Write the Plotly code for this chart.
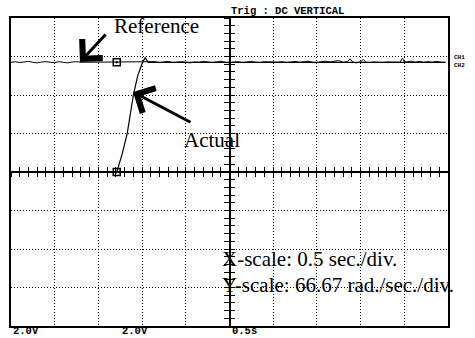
import plotly.graph_objects as go

# ---- scales -------------------------------------------------------------
sec_per_div = 0.5          # X-scale
rad_per_div = 66.67        # Y-scale
n_xdiv = 10
n_ydiv = 8

# ---- data (time in s, speed in rad/s) ------------------------------------
ref_t = [0.00, 0.05, 0.10, 0.15, 0.20, 0.25, 0.30, 0.35, 0.40, 0.45, 0.50,
         0.55, 0.60, 0.65, 0.70, 0.75, 0.80, 1.00, 1.20, 1.40, 1.60, 1.65,
         1.70, 1.75, 1.80, 1.85, 1.90, 1.95, 2.00, 2.05, 2.10, 2.15, 2.20,
         2.25, 2.30, 2.35, 2.40, 2.45, 2.50, 2.55, 2.60, 2.65, 2.70, 2.75,
         2.80, 2.85, 2.90, 2.95, 3.00, 3.05, 3.10, 3.15, 3.20, 3.25, 3.30,
         3.35, 3.40, 3.45, 3.50, 3.55, 3.60, 3.65, 3.70, 3.75, 3.80, 3.85,
         3.88, 3.91, 3.95, 4.00, 4.03, 4.06, 4.10, 4.15, 4.20, 4.25, 4.30,
         4.35, 4.40, 4.45, 4.48, 4.50, 4.53, 4.58, 4.62, 4.67, 4.72, 4.77,
         4.82, 4.87, 4.92, 4.97]
ref_v = [190, 191, 189.5, 190.5, 191.5, 190, 189, 190.5, 191, 190, 189.5,
         191, 190, 189, 190.5, 191, 190, 190, 190, 190.5, 190, 191,
         189.5, 190.5, 191.5, 189.5, 190, 191, 190, 189, 190.5, 190, 191.5,
         190, 189.5, 190.5, 192, 190, 189, 190.5, 191, 189.5, 190, 191.5,
         190, 189.5, 191, 190.5, 189.5, 190, 191, 189.5, 190.5, 191.5, 190,
         191, 192, 190, 189.5, 191, 192, 190.5, 191.5, 193, 190, 191,
         196, 190.5, 189, 190.5, 195, 190, 189.5, 190.5, 190, 189.5, 190.5,
         190, 189.5, 190, 197, 191, 190.5, 192, 190, 191.5, 190, 191,
         190, 191.5, 190, 190]

act_t = [0.00, 1.21, 1.27, 1.33, 1.40, 1.45, 1.50, 1.535, 1.57, 1.65, 4.97]
act_v = [0, 0, 30, 67, 133, 167, 188, 198, 190, 190, 190]

marker_t = [1.21, 1.21]
marker_v = [ref_v[18], act_v[1]]

t_max = n_xdiv * sec_per_div
v_max = n_ydiv / 2 * rad_per_div

fig = go.Figure()

fig.add_trace(go.Scatter(x=ref_t, y=ref_v, mode="lines",
                         line=dict(color="black", width=1),
                         showlegend=False, hoverinfo="skip"))
fig.add_trace(go.Scatter(x=act_t, y=act_v, mode="lines",
                         line=dict(color="black", width=1.2),
                         showlegend=False, hoverinfo="skip"))
fig.add_trace(go.Scatter(x=marker_t, y=marker_v, mode="markers",
                         marker=dict(symbol="square-open-dot", size=7,
                                     color="black", line=dict(width=1.5)),
                         showlegend=False, hoverinfo="skip"))
# dummy traces so the centre-cross axes are drawn
for xa, ya in [("x2", "y"), ("x3", "y"), ("x", "y2"), ("x", "y3")]:
    fig.add_trace(go.Scatter(x=[None], y=[None], xaxis=xa, yaxis=ya,
                             showlegend=False, hoverinfo="skip"))

grid = dict(showgrid=True, gridcolor="black", griddash="1px,2px",
            gridwidth=1, showline=True, mirror=True, linecolor="black",
            linewidth=2, showticklabels=False, ticks="", zeroline=False)

cross_x = dict(overlaying="x", anchor="free", position=0.5,
               range=[0, t_max], showline=True, linecolor="black",
               linewidth=1.6, ticklen=4, tickwidth=1.3, tickcolor="black",
               dtick=sec_per_div / 5, tick0=0, showgrid=False,
               showticklabels=False, zeroline=False, side="bottom")
cross_y = dict(overlaying="y", anchor="free", position=0.5,
               range=[-v_max, v_max], showline=True, linecolor="black",
               linewidth=1.6, ticklen=5, tickwidth=1.3, tickcolor="black",
               dtick=rad_per_div / 5, tick0=0, showgrid=False,
               showticklabels=False, zeroline=False, side="left")

fig.update_layout(
    width=475, height=338,
    margin=dict(l=11, r=27, t=18, b=12),
    paper_bgcolor="white", plot_bgcolor="white",
    xaxis=dict(range=[0, t_max], dtick=sec_per_div, tick0=0, **grid),
    yaxis=dict(range=[-v_max, v_max], dtick=rad_per_div, tick0=0, **grid),
    xaxis2=dict(ticks="outside", **cross_x),
    xaxis3=dict(ticks="inside", **cross_x),
    yaxis2=dict(ticks="outside", **cross_y),
    yaxis3=dict(ticks="inside", **cross_y),
)

serif = dict(family="Liberation Serif", size=21, color="black")
mono = dict(family="Liberation Mono", size=10.5, color="black")

annotations = [
    # arrows
    dict(x=0.789, y=190.5, xref="x", yref="y", ax=27, ay=-29, text="",
         showarrow=True, arrowhead=4, arrowsize=1.8, arrowwidth=3,
         arrowcolor="black", standoff=0),
    dict(x=1.396, y=138.5, xref="x", yref="y", ax=59, ay=31, text="",
         showarrow=True, arrowhead=4, arrowsize=1.8, arrowwidth=3,
         arrowcolor="black", standoff=0),
    # labels
    dict(x=1.156, y=252, xref="x", yref="y", text="Reference",
         xanchor="left", yanchor="middle", showarrow=False, font=serif),
    dict(x=1.957, y=56, xref="x", yref="y", text="Actual",
         xanchor="left", yanchor="middle", showarrow=False, font=serif),
    dict(x=2.39, y=-150.7, xref="x", yref="y", text="X-scale: 0.5 sec./div.",
         xanchor="left", yanchor="middle", showarrow=False, font=serif),
    dict(x=2.39, y=-195.7, xref="x", yref="y",
         text="Y-scale: 66.67 rad./sec./div.",
         xanchor="left", yanchor="middle", showarrow=False, font=serif),
    # scope texts
    dict(x=0.499, y=1.023, xref="paper", yref="paper",
         text="<b>Trig : DC VERTICAL</b>", xanchor="left", yanchor="middle",
         showarrow=False, font=mono),
    dict(x=0.0, y=-0.017, xref="paper", yref="paper", text="<b>2.0V</b>",
         xanchor="left", yanchor="middle", showarrow=False, font=mono),
    dict(x=0.249, y=-0.017, xref="paper", yref="paper", text="<b>2.0V</b>",
         xanchor="left", yanchor="middle", showarrow=False, font=mono),
    dict(x=0.5, y=-0.017, xref="paper", yref="paper", text="<b>0.5s</b>",
         xanchor="left", yanchor="middle", showarrow=False, font=mono),
    dict(x=1.009, y=0.86, xref="paper", yref="paper",
         text="<b>CH1<br>CH2</b>", xanchor="left", yanchor="middle",
         align="left", showarrow=False,
         font=dict(family="Liberation Mono", size=6, color="black")),
]
fig.update_layout(annotations=annotations)

fig.write_html("out.html")
